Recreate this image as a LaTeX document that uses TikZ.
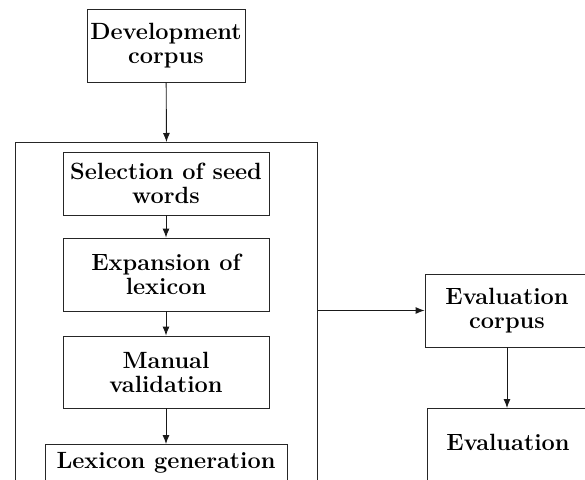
\documentclass[tikz,border=0pt]{standalone}
\usetikzlibrary{arrows.meta}
\begin{document}
\begin{tikzpicture}[x=1pt,y=-1pt,
  box/.style={draw=black!85, line width=0.9pt, align=center, inner sep=0pt,
    font=\bfseries\fontsize{23.5}{24}\selectfont},
  conn/.style={draw=black!90, line width=0.9pt, -{Latex[length=9pt,width=7pt]}}]
\useasboundingbox (0,0) rectangle (585,479);
\clip (0,0) rectangle (585,479);
\node[box, minimum width=158pt, minimum height=73pt] (dev) at (166,45.5) {Development\\corpus};
\node[draw=black!85, line width=0.9pt, anchor=north west, minimum width=302pt, minimum height=380pt, inner sep=0pt] (outer) at (15,142) {};
\node[box, minimum width=206pt, minimum height=63pt] (sel) at (166,183.5) {Selection of seed\\words};
\node[box, minimum width=206pt, minimum height=73pt] (exp) at (166,274.5) {Expansion of\\lexicon};
\node[box, minimum width=206pt, minimum height=72pt] (man) at (166,372) {Manual\\validation};
\node[box, anchor=north, minimum width=242pt, text height=16pt, text depth=60pt, inner ysep=8pt] (lex) at (166,444) {Lexicon generation};
\node[box, minimum width=164pt, minimum height=73pt] (evalc) at (507,310.5) {Evaluation\\corpus};
\node[box, anchor=north, minimum width=162pt, text height=34pt, text depth=60pt, inner ysep=8pt] (eval) at (508,408) {Evaluation};
\draw[conn] (dev) -- (outer.north);
\draw[conn] (sel) -- (exp);
\draw[conn] (exp) -- (man);
\draw[conn] (man) -- (lex.north);
\draw[conn] (outer.east |- evalc.west) -- (evalc.west);
\draw[conn] (evalc.south) -- (evalc.south |- eval.north);
\end{tikzpicture}
\end{document}
